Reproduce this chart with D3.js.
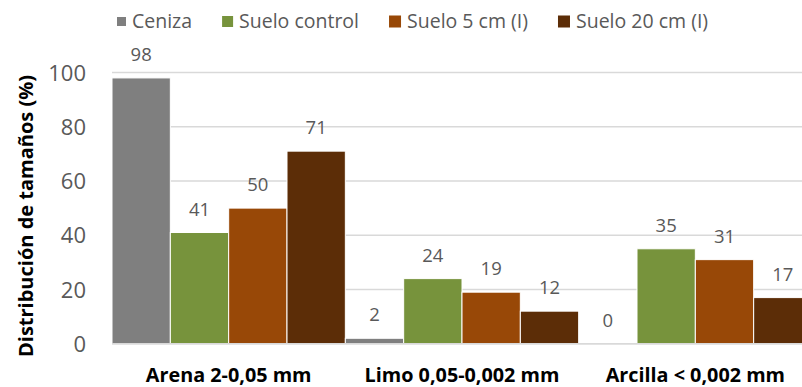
<!DOCTYPE html>
<html>
<head>
<meta charset="utf-8">
<script src="https://cdn.jsdelivr.net/npm/d3@7"></script>
<style>
  html, body { margin: 0; padding: 0; background: #fff; }
  svg { display: block; overflow: hidden; }
  text { font-family: "Open Sans", "Noto Sans", sans-serif; }
</style>
</head>
<body>
<svg id="chart" width="802" height="387"></svg>
<script>
// Particle-size distribution by fraction
const categories = ["Arena 2-0,05 mm", "Limo 0,05-0,002 mm", "Arcilla < 0,002 mm"];
const seriesNames = ["Ceniza", "Suelo control", "Suelo 5 cm (I)", "Suelo 20 cm (I)"];
const ceniza      = [98, 2, 0];
const sueloControl = [41, 24, 35];
const suelo5cm    = [50, 19, 31];
const suelo20cm   = [71, 12, 17];
const yTicks = [0, 20, 40, 60, 80, 100];
const yTitle = "Distribución de tamaños (%)";

const seriesValues = [ceniza, sueloControl, suelo5cm, suelo20cm];
const colors = ["#7f7f7f", "#77933c", "#984807", "#5c2d07"];

const svg = d3.select("#chart");

const plot = { left: 112, right: 812, top: 72.5, bottom: 343.7 };

const x0 = d3.scaleBand().domain(categories).range([plot.left, plot.right]).padding(0);
const x1 = d3.scaleBand().domain(seriesNames).range([0, x0.bandwidth()]).padding(0);
const y = d3.scaleLinear().domain([0, 100]).range([plot.bottom, plot.top]);

// gridlines
svg.append("g")
  .selectAll("line")
  .data(yTicks)
  .join("line")
  .attr("x1", plot.left).attr("x2", plot.right)
  .attr("y1", d => y(d)).attr("y2", d => y(d))
  .attr("stroke", "#d9d9d9").attr("stroke-width", 1.5);

// y axis tick labels
const yAxis = d3.axisLeft(y).tickValues(yTicks).tickSize(0).tickPadding(0);
const gy = svg.append("g").attr("transform", `translate(86,0)`).call(yAxis);
gy.select(".domain").remove();
gy.selectAll("text")
  .attr("font-family", "'Open Sans', sans-serif")
  .attr("font-size", 22)
  .attr("fill", "#595959")
  .attr("dy", "0.35em");

// bars
const groups = svg.append("g")
  .selectAll("g")
  .data(categories)
  .join("g")
  .attr("transform", d => `translate(${x0(d)},0)`);

groups.selectAll("rect")
  .data((c, i) => seriesNames.map((s, k) => ({ s, k, v: seriesValues[k][i] })))
  .join("rect")
  .attr("x", d => x1(d.s))
  .attr("width", x1.bandwidth())
  .attr("y", d => y(d.v))
  .attr("height", d => y(0) - y(d.v))
  .attr("fill", d => colors[d.k])
  .attr("stroke", "#ffffff")
  .attr("stroke-width", 1);

// value labels
groups.selectAll("text.val")
  .data((c, i) => seriesNames.map((s, k) => ({ s, k, v: seriesValues[k][i] })))
  .join("text")
  .attr("class", "val")
  .attr("x", d => x1(d.s) + x1.bandwidth() / 2)
  .attr("y", d => y(d.v) - 17)
  .attr("text-anchor", "middle")
  .attr("font-size", 18.5)
  .attr("fill", "#595959")
  .text(d => d.v);

// x axis baseline
svg.append("line")
  .attr("x1", plot.left).attr("x2", plot.right)
  .attr("y1", y(0)).attr("y2", y(0))
  .attr("stroke", "#d9d9d9").attr("stroke-width", 1.5);

// x category labels
const xAxis = d3.axisBottom(x0).tickSize(0).tickPadding(0);
const gx = svg.append("g").attr("transform", `translate(0,382)`).call(xAxis);
gx.select(".domain").remove();
gx.selectAll("text")
  .attr("font-family", "'Open Sans', sans-serif")
  .attr("font-size", 19.8)
  .attr("font-weight", "bold")
  .attr("fill", "#000")
  .attr("dy", 0);

// y axis title
svg.append("text")
  .attr("transform", "translate(33,216) rotate(-90)")
  .attr("text-anchor", "middle")
  .attr("font-size", 20)
  .attr("font-weight", "bold")
  .attr("fill", "#000")
  .text(yTitle);

// legend
const legend = svg.append("g");
const markerSizes = [9, 11, 12, 12];
let lx = 117;
seriesNames.forEach((name, k) => {
  const ms = markerSizes[k];
  legend.append("rect")
    .attr("x", lx).attr("y", 21.5 - ms / 2)
    .attr("width", ms).attr("height", ms)
    .attr("fill", colors[k]);
  const t = legend.append("text")
    .attr("x", lx + ms + 6)
    .attr("y", 28)
    .attr("font-size", 19.5)
    .attr("fill", "#595959")
    .text(name);
  lx = lx + ms + 6 + t.node().getComputedTextLength() + 30;
});
</script>
</body>
</html>
